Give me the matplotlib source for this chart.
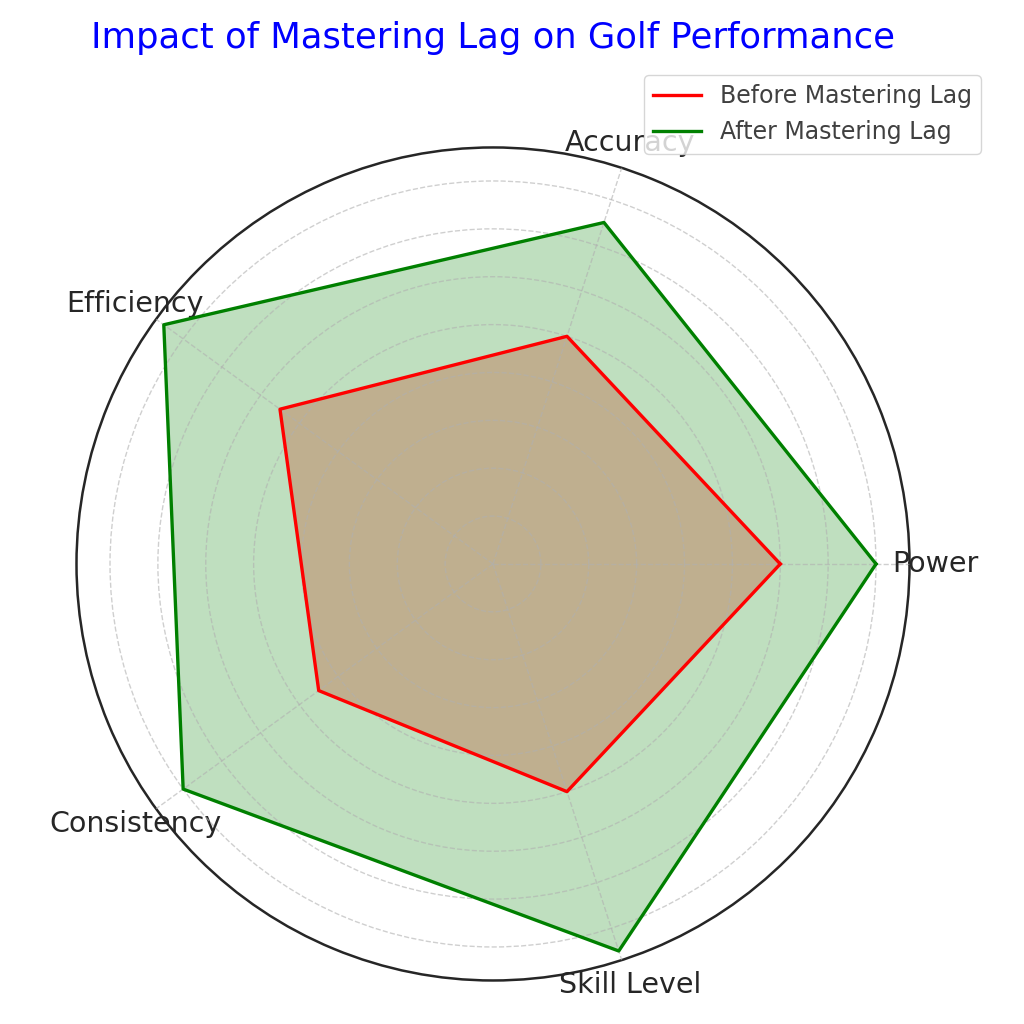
import numpy as np
import matplotlib
matplotlib.use("Agg")
import matplotlib.pyplot as plt

# ===== DATOS =====

categorias = ["Power", "Accuracy", "Efficiency", "Consistency", "Skill Level"]
antes = [6, 5, 5.5, 4.5, 5]
despues = [8, 7.5, 8.5, 8, 8.5]

# ===== GRAFICA =====

n = len(categorias)
angulos = np.linspace(0, 2 * np.pi, n, endpoint=False).tolist()
angulos += angulos[:1]

antes_c = antes + antes[:1]
despues_c = despues + despues[:1]

fig = plt.figure(figsize=(10.24, 10.24), dpi=100)
ax = fig.add_axes([0.0747, 0.0425, 0.8135, 0.8135], polar=True)
ax.set_axisbelow(False)

ax.plot(angulos, antes_c, color="red", linewidth=2.4, label="Before Mastering Lag", zorder=3)
ax.fill(angulos, antes_c, color="red", alpha=0.25, zorder=1)

ax.plot(angulos, despues_c, color="green", linewidth=2.4, label="After Mastering Lag", zorder=3)
ax.fill(angulos, despues_c, color="green", alpha=0.25, zorder=1)

ax.set_ylim(0, 8.7)
ax.set_yticks(range(1, 9))
ax.set_yticklabels([])

ax.set_xticks(angulos[:-1])
ax.set_xticklabels(categorias, fontsize=20.5, color="#262626")
ax.tick_params(axis="x", pad=8)

ax.grid(color="#b0b0b0", alpha=0.6, linestyle="--", linewidth=1)
ax.spines["polar"].set_color("#262626")
ax.spines["polar"].set_linewidth(1.8)

fig.text(493 / 1024, 1 - 38 / 1024, "Impact of Mastering Lag on Golf Performance",
         fontsize=25.5, color="blue", ha="center", va="center")

leg = ax.legend(loc="upper right", bbox_to_anchor=(981 / 1024, 1 - 75 / 1024),
                bbox_transform=fig.transFigure, fontsize=17, borderaxespad=0)
for t in leg.get_texts():
    t.set_color("#404040")

plt.savefig("out.png", dpi=100)
plt.close()
